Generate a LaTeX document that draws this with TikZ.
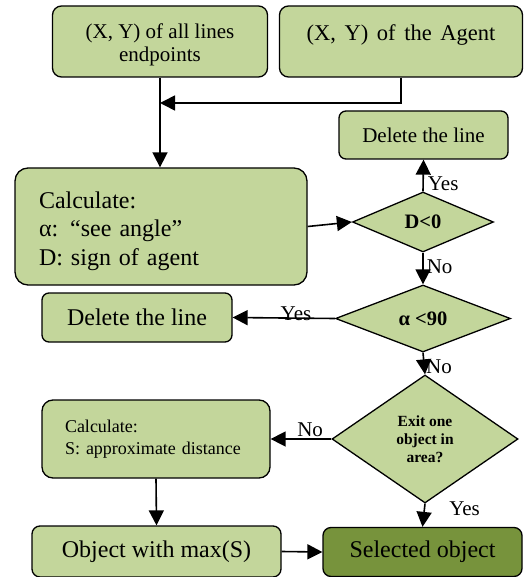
\documentclass[tikz,border=0pt]{standalone}
\usepackage{fontspec}
\setmainfont{Liberation Serif}
\usetikzlibrary{shapes.geometric,arrows.meta,positioning}
\definecolor{lightolive}{HTML}{C3D69B}
\definecolor{darkolive}{HTML}{77933C}

\begin{document}
\begin{tikzpicture}[x=1pt,y=-1pt,
  box/.style={draw,line width=1.3pt,rounded corners=9pt,fill=lightolive,align=center,inner sep=0pt},
  test/.style={draw,diamond,line width=1.3pt,fill=lightolive,inner sep=0pt,align=center,font=\fontsize{20.5}{24}\selectfont\bfseries},
  flow/.style={line width=1.6pt,-{Triangle[length=15pt,width=15pt]}},
  tag/.style={font=\fontsize{21}{24}\selectfont,inner sep=1pt},
  big/.style={font=\fontsize{24}{28.5}\selectfont},
  mid/.style={font=\fontsize{21}{23}\selectfont}]
\useasboundingbox (0,0) rectangle (525,577);
\node [box,mid,minimum width=215pt,minimum height=71pt] (lines) at (160,41.5) {\rule{0pt}{22pt}(X, Y) of all lines\\endpoints};
\node [box,font=\fontsize{22.5}{23}\selectfont,minimum width=243pt,minimum height=71pt] (agent) at (401,41.5) {\spaceskip=8.6pt\rule{0pt}{22pt}(X, Y) of the Agent\\\mbox{}};
\node [box,mid,rounded corners=7pt,minimum width=169pt,minimum height=48pt] (del1) at (423.5,135) {Delete the line};
\node [box,big,rounded corners=13pt,minimum width=292pt,minimum height=117pt,text width=244pt,align=left] (calc) at (161,226.5) {\rule{0pt}{26pt}Calculate:\\α: “see angle”\\D: sign of agent};
\node [test,minimum width=141pt,minimum height=60pt] (dsign) at (423,222) {D<0};
\node [test,minimum width=175pt,minimum height=67pt] (dangle) at (423,318.5) {α <90};
\node [box,big,rounded corners=7pt,minimum width=190pt,minimum height=49pt] (del2) at (137,317.5) {Delete the line};
\node [test,font=\fontsize{15.5}{18}\selectfont\bfseries,minimum width=186pt,minimum height=128pt] (dexit) at (425,439) {Exit one\\object in\\area?};
\node [box,rounded corners=11pt,font=\fontsize{18}{21.5}\selectfont,minimum width=228pt,minimum height=78pt,text width=182pt,align=left] (calcs) at (156,439) {Calculate:\\S: approximate distance};
\node [box,big,rounded corners=8pt,minimum width=249pt,minimum height=51pt] (obj) at (156.5,551.5) {Object with max(S)};
\node [box,big,rounded corners=8pt,fill=darkolive,minimum width=199pt,minimum height=49pt] (sel) at (422.5,552) {Selected object};
\coordinate (join) at (lines.south |- 0,103);
\draw [flow] (lines.south) -- (lines.south |- calc.north);
\draw [flow] (agent.south) |- (join);
\draw [flow] (calc.east) -- (dsign.west);
\draw [flow] (dsign.north) -- node [tag,anchor=west,pos=0.25,xshift=3pt] {Yes} (del1.south);
\draw [flow] (dsign.south) -- node [tag,anchor=west,pos=0.45,xshift=2pt] {No} (dangle.north);
\draw [flow] (dangle.west) -- node [tag,anchor=south,pos=0.38,inner sep=0pt,yshift=-3pt] {Yes} (del2.east);
\draw [flow] (dangle.south) -- node [tag,anchor=west,pos=0.65] {No} (dexit.north);
\draw [flow] (dexit.west) -- node [tag,anchor=south,pos=0.35,inner sep=1pt] {No} (calcs.east);
\draw [flow] (dexit.south) -- node [tag,anchor=west,pos=0.2,xshift=23pt] {Yes} (sel.north);
\draw [flow] (calcs.south) -- (obj.north);
\draw [flow] (obj.east) -- (sel.west);
\end{tikzpicture}
\end{document}
